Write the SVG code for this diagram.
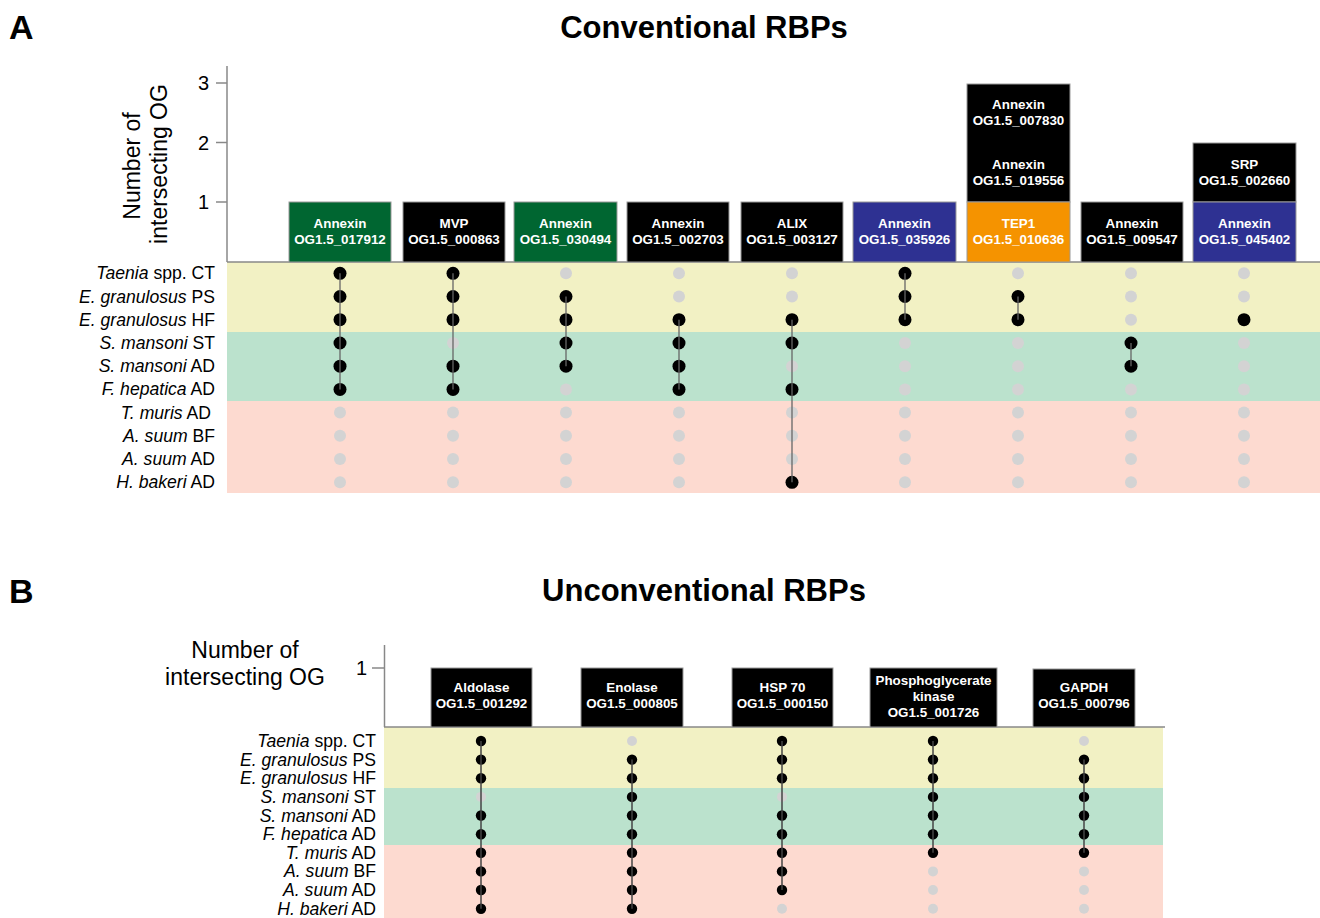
<svg xmlns="http://www.w3.org/2000/svg" width="1320" height="918" viewBox="0 0 1320 918">
<style>
text{font-family:"Liberation Sans",Arial,sans-serif;fill:#000}
.pl{font-size:34px;font-weight:bold}
.tt{font-size:31px;font-weight:bold;text-anchor:middle}
.ax{font-size:23px;text-anchor:middle}
.tk{font-size:20px;text-anchor:end}
.rl{font-size:17.6px;text-anchor:end}
.it{font-style:italic}
.bt{font-size:13.4px;font-weight:bold;fill:#fff;text-anchor:middle}
.bar{stroke:#9a9a9a;stroke-width:1}
.k{fill:#000}
.g{fill:#d3d3d3}
.axl{stroke:#888;stroke-width:1.5;fill:none}
.cA{stroke:#666;stroke-width:1.3}
.cB{stroke:#444;stroke-width:1.5}
.yel{fill:#f2f1c4}
.grn{fill:#bbe2cd}
.pnk{fill:#fddad0}
</style>
<rect width="1320" height="918" fill="#fff"/>

<!-- Panel A -->
<g id="panelA-header">
<text class="pl" x="9" y="39">A</text>
<text class="tt" x="704" y="38">Conventional RBPs</text>
</g>
<g id="panelA-bands">
<rect class="yel" x="227" y="262" width="1093" height="70"/>
<rect class="grn" x="227" y="332" width="1093" height="69"/>
<rect class="pnk" x="227" y="401" width="1093" height="92"/>
</g>
<g id="panelA-axis">
<line class="axl" x1="227" y1="66" x2="227" y2="262"/>
<line class="axl" x1="227" y1="262" x2="1320" y2="262"/>
<line class="axl" x1="216" y1="83" x2="227" y2="83"/>
<line class="axl" x1="216" y1="142.5" x2="227" y2="142.5"/>
<line class="axl" x1="216" y1="202" x2="227" y2="202"/>
<text class="tk" x="209" y="90">3</text>
<text class="tk" x="209" y="149.5">2</text>
<text class="tk" x="209" y="209">1</text>
<text class="ax" transform="translate(140,166) rotate(-90)">Number of</text>
<text class="ax" transform="translate(167,164) rotate(-90)">intersecting OG</text>
</g>
<g id="panelA-rowlabels">
<text class="rl" x="215" y="279.3"><tspan class="it">Taenia</tspan> spp. CT</text>
<text class="rl" x="215" y="302.5"><tspan class="it">E. granulosus</tspan> PS</text>
<text class="rl" x="215" y="325.7"><tspan class="it">E. granulosus</tspan> HF</text>
<text class="rl" x="215" y="349"><tspan class="it">S. mansoni</tspan> ST</text>
<text class="rl" x="215" y="372.2"><tspan class="it">S. mansoni</tspan> AD</text>
<text class="rl" x="215" y="395.4"><tspan class="it">F. hepatica</tspan> AD</text>
<text class="rl" x="211" y="418.6"><tspan class="it">T. muris</tspan> AD</text>
<text class="rl" x="215" y="441.8"><tspan class="it">A. suum</tspan> BF</text>
<text class="rl" x="215" y="465"><tspan class="it">A. suum</tspan> AD</text>
<text class="rl" x="215" y="488.3"><tspan class="it">H. bakeri</tspan> AD</text>
</g>

<g id="A1">
<rect class="bar" x="289" y="202" width="102" height="60" fill="#006631"/>
<text class="bt" x="340" y="228">Annexin</text><text class="bt" x="340" y="244">OG1.5_017912</text>
<g class="k"><circle cx="340" cy="273.3" r="6.5"/><circle cx="340" cy="296.5" r="6.5"/><circle cx="340" cy="319.7" r="6.5"/><circle cx="340" cy="343" r="6.5"/><circle cx="340" cy="366.2" r="6.5"/><circle cx="340" cy="389.4" r="6.5"/></g>
<g class="g"><circle cx="340" cy="412.6" r="6"/><circle cx="340" cy="435.8" r="6"/><circle cx="340" cy="459" r="6"/><circle cx="340" cy="482.3" r="6"/></g>
</g>
<g id="A2">
<rect class="bar" x="403" y="202" width="102" height="60" fill="#000"/>
<text class="bt" x="454" y="228">MVP</text><text class="bt" x="454" y="244">OG1.5_000863</text>
<g class="k"><circle cx="453" cy="273.3" r="6.5"/><circle cx="453" cy="296.5" r="6.5"/><circle cx="453" cy="319.7" r="6.5"/><circle cx="453" cy="366.2" r="6.5"/><circle cx="453" cy="389.4" r="6.5"/></g>
<g class="g"><circle cx="453" cy="343" r="6"/><circle cx="453" cy="412.6" r="6"/><circle cx="453" cy="435.8" r="6"/><circle cx="453" cy="459" r="6"/><circle cx="453" cy="482.3" r="6"/></g>
</g>
<g id="A3">
<rect class="bar" x="514" y="202" width="103" height="60" fill="#006631"/>
<text class="bt" x="565.5" y="228">Annexin</text><text class="bt" x="565.5" y="244">OG1.5_030494</text>
<g class="k"><circle cx="566" cy="296.5" r="6.5"/><circle cx="566" cy="319.7" r="6.5"/><circle cx="566" cy="343" r="6.5"/><circle cx="566" cy="366.2" r="6.5"/></g>
<g class="g"><circle cx="566" cy="273.3" r="6"/><circle cx="566" cy="389.4" r="6"/><circle cx="566" cy="412.6" r="6"/><circle cx="566" cy="435.8" r="6"/><circle cx="566" cy="459" r="6"/><circle cx="566" cy="482.3" r="6"/></g>
</g>
<g id="A4">
<rect class="bar" x="627" y="202" width="102" height="60" fill="#000"/>
<text class="bt" x="678" y="228">Annexin</text><text class="bt" x="678" y="244">OG1.5_002703</text>
<g class="k"><circle cx="679" cy="319.7" r="6.5"/><circle cx="679" cy="343" r="6.5"/><circle cx="679" cy="366.2" r="6.5"/><circle cx="679" cy="389.4" r="6.5"/></g>
<g class="g"><circle cx="679" cy="273.3" r="6"/><circle cx="679" cy="296.5" r="6"/><circle cx="679" cy="412.6" r="6"/><circle cx="679" cy="435.8" r="6"/><circle cx="679" cy="459" r="6"/><circle cx="679" cy="482.3" r="6"/></g>
</g>
<g id="A5">
<rect class="bar" x="741" y="202" width="102" height="60" fill="#000"/>
<text class="bt" x="792" y="228">ALIX</text><text class="bt" x="792" y="244">OG1.5_003127</text>
<g class="k"><circle cx="792" cy="319.7" r="6.5"/><circle cx="792" cy="343" r="6.5"/><circle cx="792" cy="389.4" r="6.5"/><circle cx="792" cy="482.3" r="6.5"/></g>
<g class="g"><circle cx="792" cy="273.3" r="6"/><circle cx="792" cy="296.5" r="6"/><circle cx="792" cy="366.2" r="6"/><circle cx="792" cy="412.6" r="6"/><circle cx="792" cy="435.8" r="6"/><circle cx="792" cy="459" r="6"/></g>
</g>
<g id="A6">
<rect class="bar" x="853" y="202" width="103" height="60" fill="#2e3192"/>
<text class="bt" x="904.5" y="228">Annexin</text><text class="bt" x="904.5" y="244">OG1.5_035926</text>
<g class="k"><circle cx="905" cy="273.3" r="6.5"/><circle cx="905" cy="296.5" r="6.5"/><circle cx="905" cy="319.7" r="6.5"/></g>
<g class="g"><circle cx="905" cy="343" r="6"/><circle cx="905" cy="366.2" r="6"/><circle cx="905" cy="389.4" r="6"/><circle cx="905" cy="412.6" r="6"/><circle cx="905" cy="435.8" r="6"/><circle cx="905" cy="459" r="6"/><circle cx="905" cy="482.3" r="6"/></g>
</g>
<g id="A7">
<rect class="bar" x="967" y="84" width="103" height="118" fill="#000"/>
<rect class="bar" x="967" y="202" width="103" height="60" fill="#f59300"/>
<text class="bt" x="1018.5" y="109">Annexin</text><text class="bt" x="1018.5" y="125">OG1.5_007830</text>
<text class="bt" x="1018.5" y="169">Annexin</text><text class="bt" x="1018.5" y="185">OG1.5_019556</text>
<text class="bt" x="1018.5" y="228">TEP1</text><text class="bt" x="1018.5" y="244">OG1.5_010636</text>
<g class="k"><circle cx="1018" cy="296.5" r="6.5"/><circle cx="1018" cy="319.7" r="6.5"/></g>
<g class="g"><circle cx="1018" cy="273.3" r="6"/><circle cx="1018" cy="343" r="6"/><circle cx="1018" cy="366.2" r="6"/><circle cx="1018" cy="389.4" r="6"/><circle cx="1018" cy="412.6" r="6"/><circle cx="1018" cy="435.8" r="6"/><circle cx="1018" cy="459" r="6"/><circle cx="1018" cy="482.3" r="6"/></g>
</g>
<g id="A8">
<rect class="bar" x="1081" y="202" width="102" height="60" fill="#000"/>
<text class="bt" x="1132" y="228">Annexin</text><text class="bt" x="1132" y="244">OG1.5_009547</text>
<g class="k"><circle cx="1131" cy="343" r="6.5"/><circle cx="1131" cy="366.2" r="6.5"/></g>
<g class="g"><circle cx="1131" cy="273.3" r="6"/><circle cx="1131" cy="296.5" r="6"/><circle cx="1131" cy="319.7" r="6"/><circle cx="1131" cy="389.4" r="6"/><circle cx="1131" cy="412.6" r="6"/><circle cx="1131" cy="435.8" r="6"/><circle cx="1131" cy="459" r="6"/><circle cx="1131" cy="482.3" r="6"/></g>
</g>
<g id="A9">
<rect class="bar" x="1193" y="143" width="103" height="59" fill="#000"/>
<rect class="bar" x="1193" y="202" width="103" height="60" fill="#2e3192"/>
<text class="bt" x="1244.5" y="169">SRP</text><text class="bt" x="1244.5" y="185">OG1.5_002660</text>
<text class="bt" x="1244.5" y="228">Annexin</text><text class="bt" x="1244.5" y="244">OG1.5_045402</text>
<g class="k"><circle cx="1244" cy="319.7" r="6.5"/></g>
<g class="g"><circle cx="1244" cy="273.3" r="6"/><circle cx="1244" cy="296.5" r="6"/><circle cx="1244" cy="343" r="6"/><circle cx="1244" cy="366.2" r="6"/><circle cx="1244" cy="389.4" r="6"/><circle cx="1244" cy="412.6" r="6"/><circle cx="1244" cy="435.8" r="6"/><circle cx="1244" cy="459" r="6"/><circle cx="1244" cy="482.3" r="6"/></g>
</g>
<g id="connectorsA" class="cA">
<line x1="340" y1="273.3" x2="340" y2="389.4"/>
<line x1="453" y1="273.3" x2="453" y2="389.4"/>
<line x1="566" y1="296.5" x2="566" y2="366.2"/>
<line x1="679" y1="319.7" x2="679" y2="389.4"/>
<line x1="792" y1="319.7" x2="792" y2="482.3"/>
<line x1="905" y1="273.3" x2="905" y2="319.7"/>
<line x1="1018" y1="296.5" x2="1018" y2="319.7"/>
<line x1="1131" y1="343" x2="1131" y2="366.2"/>
</g>

<!-- Panel B -->
<g id="panelB-header">
<text class="pl" x="9" y="603">B</text>
<text class="tt" x="704" y="601">Unconventional RBPs</text>
</g>
<g id="panelB-bands">
<rect class="yel" x="384" y="727" width="779" height="61"/>
<rect class="grn" x="384" y="788" width="779" height="57"/>
<rect class="pnk" x="384" y="845" width="779" height="73"/>
</g>
<g id="panelB-axis">
<line class="axl" x1="384.5" y1="645" x2="384.5" y2="727"/>
<line class="axl" x1="384" y1="727" x2="1165" y2="727"/>
<line class="axl" x1="372" y1="668" x2="384.5" y2="668"/>
<text class="tk" x="367" y="675">1</text>
<text class="ax" x="245" y="658">Number of</text>
<text class="ax" x="245" y="685">intersecting OG</text>
</g>
<g id="panelB-rowlabels">
<text class="rl" x="376" y="747"><tspan class="it">Taenia</tspan> spp. CT</text>
<text class="rl" x="376" y="765.6"><tspan class="it">E. granulosus</tspan> PS</text>
<text class="rl" x="376" y="784.3"><tspan class="it">E. granulosus</tspan> HF</text>
<text class="rl" x="376" y="802.9"><tspan class="it">S. mansoni</tspan> ST</text>
<text class="rl" x="376" y="821.5"><tspan class="it">S. mansoni</tspan> AD</text>
<text class="rl" x="376" y="840.2"><tspan class="it">F. hepatica</tspan> AD</text>
<text class="rl" x="376" y="858.8"><tspan class="it">T. muris</tspan> AD</text>
<text class="rl" x="376" y="877.4"><tspan class="it">A. suum</tspan> BF</text>
<text class="rl" x="376" y="896"><tspan class="it">A. suum</tspan> AD</text>
<text class="rl" x="376" y="914.7"><tspan class="it">H. bakeri</tspan> AD</text>
</g>

<g id="B1">
<rect class="bar" x="431" y="668" width="101" height="59" fill="#000"/>
<text class="bt" x="481.5" y="692">Aldolase</text><text class="bt" x="481.5" y="708">OG1.5_001292</text>
<g class="k"><circle cx="481" cy="741" r="5.2"/><circle cx="481" cy="759.6" r="5.2"/><circle cx="481" cy="778.3" r="5.2"/><circle cx="481" cy="815.5" r="5.2"/><circle cx="481" cy="834.2" r="5.2"/><circle cx="481" cy="852.8" r="5.2"/><circle cx="481" cy="871.4" r="5.2"/><circle cx="481" cy="890" r="5.2"/><circle cx="481" cy="908.7" r="5.2"/></g>
<g class="g"><circle cx="481" cy="796.9" r="5"/></g>
</g>
<g id="B2">
<rect class="bar" x="581" y="668" width="102" height="59" fill="#000"/>
<text class="bt" x="632" y="692">Enolase</text><text class="bt" x="632" y="708">OG1.5_000805</text>
<g class="k"><circle cx="632" cy="759.6" r="5.2"/><circle cx="632" cy="778.3" r="5.2"/><circle cx="632" cy="796.9" r="5.2"/><circle cx="632" cy="815.5" r="5.2"/><circle cx="632" cy="834.2" r="5.2"/><circle cx="632" cy="852.8" r="5.2"/><circle cx="632" cy="871.4" r="5.2"/><circle cx="632" cy="890" r="5.2"/><circle cx="632" cy="908.7" r="5.2"/></g>
<g class="g"><circle cx="632" cy="741" r="5"/></g>
</g>
<g id="B3">
<rect class="bar" x="732" y="668" width="101" height="59" fill="#000"/>
<text class="bt" x="782.5" y="692">HSP 70</text><text class="bt" x="782.5" y="708">OG1.5_000150</text>
<g class="k"><circle cx="782" cy="741" r="5.2"/><circle cx="782" cy="759.6" r="5.2"/><circle cx="782" cy="778.3" r="5.2"/><circle cx="782" cy="815.5" r="5.2"/><circle cx="782" cy="834.2" r="5.2"/><circle cx="782" cy="852.8" r="5.2"/><circle cx="782" cy="871.4" r="5.2"/><circle cx="782" cy="890" r="5.2"/></g>
<g class="g"><circle cx="782" cy="796.9" r="5"/><circle cx="782" cy="908.7" r="5"/></g>
</g>
<g id="B4">
<rect class="bar" x="870" y="668" width="127" height="59" fill="#000"/>
<text class="bt" x="933.5" y="685">Phosphoglycerate</text><text class="bt" x="933.5" y="701">kinase</text><text class="bt" x="933.5" y="717">OG1.5_001726</text>
<g class="k"><circle cx="933" cy="741" r="5.2"/><circle cx="933" cy="759.6" r="5.2"/><circle cx="933" cy="778.3" r="5.2"/><circle cx="933" cy="796.9" r="5.2"/><circle cx="933" cy="815.5" r="5.2"/><circle cx="933" cy="834.2" r="5.2"/><circle cx="933" cy="852.8" r="5.2"/></g>
<g class="g"><circle cx="933" cy="871.4" r="5"/><circle cx="933" cy="890" r="5"/><circle cx="933" cy="908.7" r="5"/></g>
</g>
<g id="B5">
<rect class="bar" x="1033" y="669" width="102" height="58" fill="#000"/>
<text class="bt" x="1084" y="692">GAPDH</text><text class="bt" x="1084" y="708">OG1.5_000796</text>
<g class="k"><circle cx="1084" cy="759.6" r="5.2"/><circle cx="1084" cy="778.3" r="5.2"/><circle cx="1084" cy="796.9" r="5.2"/><circle cx="1084" cy="815.5" r="5.2"/><circle cx="1084" cy="834.2" r="5.2"/><circle cx="1084" cy="852.8" r="5.2"/></g>
<g class="g"><circle cx="1084" cy="741" r="5"/><circle cx="1084" cy="871.4" r="5"/><circle cx="1084" cy="890" r="5"/><circle cx="1084" cy="908.7" r="5"/></g>
</g>
<g id="connectorsB" class="cB">
<line x1="481" y1="741" x2="481" y2="908.7"/>
<line x1="632" y1="759.6" x2="632" y2="908.7"/>
<line x1="782" y1="741" x2="782" y2="890"/>
<line x1="933" y1="741" x2="933" y2="852.8"/>
<line x1="1084" y1="759.6" x2="1084" y2="852.8"/>
</g>
</svg>
